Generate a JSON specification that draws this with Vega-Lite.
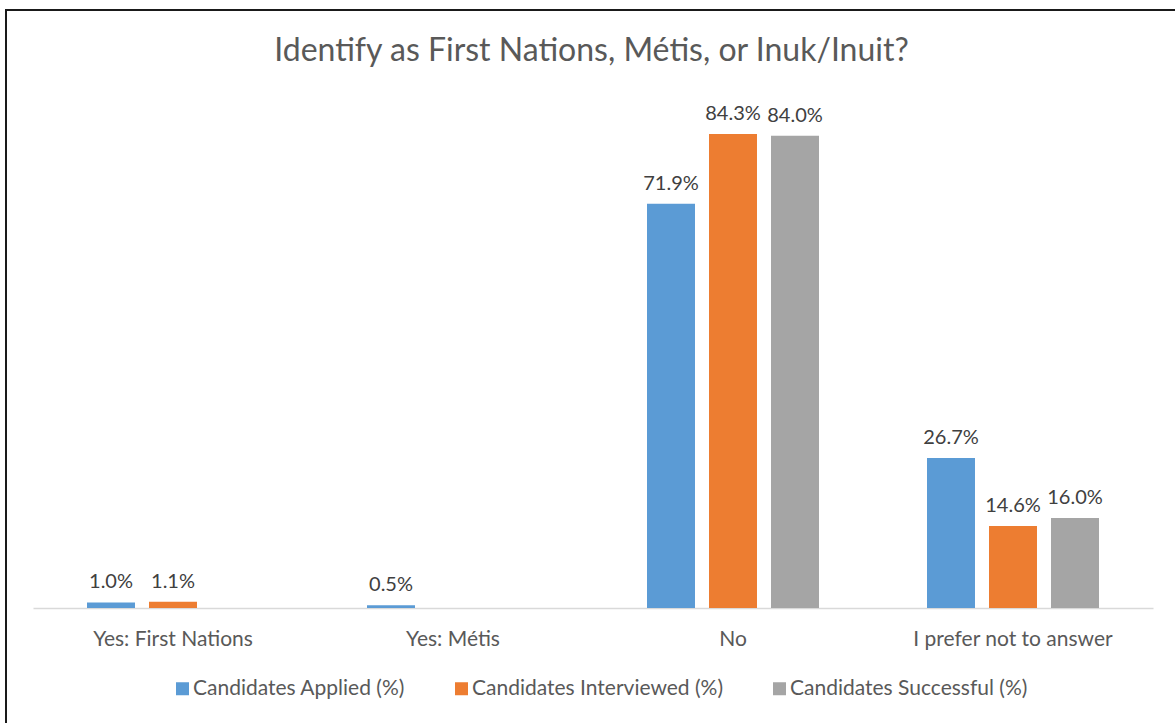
{
  "$schema": "https://vega.github.io/schema/vega-lite/v6.json",
  "width": 1171,
  "height": 715,
  "autosize": {"type": "none"},
  "padding": {"left": 6, "top": 10, "right": -2, "bottom": -2},
  "background": "white",
  "config": {
    "view": {"stroke": "#1a1a1a", "strokeWidth": 2},
    "font": "Lato"
  },
  "title": {
    "text": "Identify as  First Nations, Métis, or Inuk/Inuit?",
    "fontSize": 32,
    "font": "Lato",
    "fontWeight": "normal",
    "color": "#595959",
    "anchor": "middle",
    "offset": -83,
    "baseline": "alphabetic"
  },
  "data": {
    "values": [
      {"category": "Yes:  First Nations", "series": "Candidates Applied (%)", "value": 0.010},
      {"category": "Yes:  First Nations", "series": "Candidates Interviewed (%)", "value": 0.011},
      {"category": "Yes:  Métis", "series": "Candidates Applied (%)", "value": 0.005},
      {"category": "No", "series": "Candidates Applied (%)", "value": 0.719},
      {"category": "No", "series": "Candidates Interviewed (%)", "value": 0.843},
      {"category": "No", "series": "Candidates Successful (%)", "value": 0.840},
      {"category": "I prefer not to answer", "series": "Candidates Applied (%)", "value": 0.267},
      {"category": "I prefer not to answer", "series": "Candidates Interviewed (%)", "value": 0.146},
      {"category": "I prefer not to answer", "series": "Candidates Successful (%)", "value": 0.160}
    ]
  },
  "encoding": {
    "x": {
      "field": "category",
      "type": "nominal",
      "sort": ["Yes:  First Nations", "Yes:  Métis", "No", "I prefer not to answer"],
      "scale": {"range": [27, 1147], "paddingInner": 0, "paddingOuter": 0},
      "axis": {
        "orient": "bottom",
        "offset": -117,
        "title": null,
        "domainColor": "#D9D9D9",
        "domainWidth": 1.5,
        "ticks": false,
        "tickSize": 0,
        "labelPadding": 37,
        "labelBaseline": "alphabetic",
        "labelFontSize": 21,
        "labelFont": "Lato",
        "labelColor": "#595959",
        "labelAngle": 0,
        "labelLimit": 0
      }
    },
    "xOffset": {
      "field": "series",
      "type": "nominal",
      "sort": ["Candidates Applied (%)", "Candidates Interviewed (%)", "Candidates Successful (%)"],
      "scale": {"paddingInner": 0.226, "paddingOuter": 0.871}
    },
    "y": {
      "field": "value",
      "type": "quantitative",
      "scale": {"domain": [0, 0.9], "range": [598, 92], "nice": false, "zero": true},
      "axis": null
    }
  },
  "layer": [
    {
      "mark": {"type": "bar"},
      "encoding": {
        "color": {
          "field": "series",
          "type": "nominal",
          "sort": ["Candidates Applied (%)", "Candidates Interviewed (%)", "Candidates Successful (%)"],
          "scale": {
            "domain": ["Candidates Applied (%)", "Candidates Interviewed (%)", "Candidates Successful (%)"],
            "range": ["#5B9BD5", "#ED7D31", "#A5A5A5"]
          },
          "legend": {
            "orient": "none",
            "legendX": 166,
            "legendY": 668,
            "direction": "horizontal",
            "title": null,
            "padding": 0,
            "symbolType": "square",
            "symbolSize": 169,
            "symbolStrokeWidth": 0,
            "symbolOpacity": 1,
            "labelFontSize": 21,
            "labelFont": "Lato",
            "labelColor": "#595959",
            "labelOffset": 0,
            "labelLimit": 0,
            "columnPadding": 45
          }
        }
      }
    },
    {
      "mark": {"type": "text", "dy": -14, "baseline": "alphabetic", "fontSize": 20, "font": "Lato", "color": "#404040"},
      "encoding": {
        "text": {"field": "value", "type": "quantitative", "format": ".1%"}
      }
    }
  ]
}
